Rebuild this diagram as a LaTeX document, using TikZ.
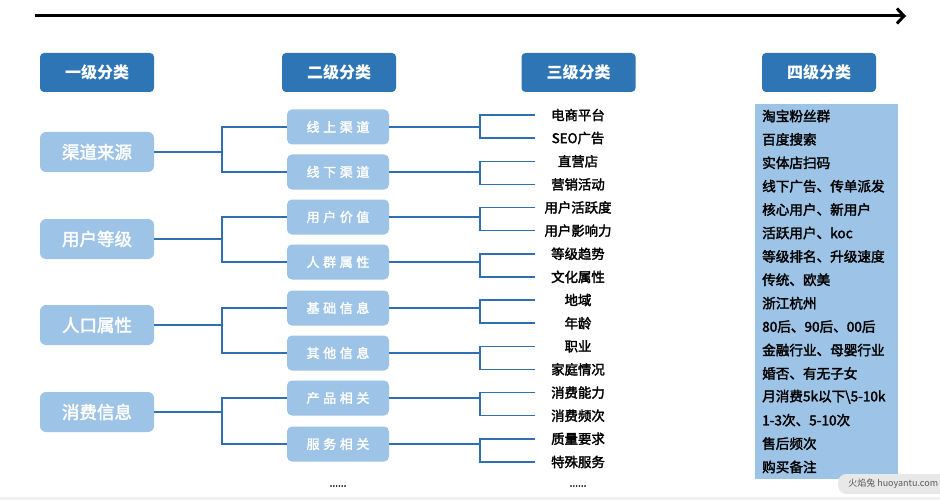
\documentclass[tikz,border=0pt]{standalone}
\usepackage{fontspec}
\setmainfont{Noto Sans CJK SC}
\newfontfamily\medfont{Noto Sans CJK SC}[RawFeature={embolden=2.2}]
\usetikzlibrary{arrows.meta}
\definecolor{dk}{HTML}{2E75B6}
\definecolor{lt}{HTML}{9DC3E6}
\definecolor{ln}{HTML}{2F6FB2}
\newcommand{\lsp}{\hspace{3.6pt}}
\tikzset{
  head/.style={fill=dk, rounded corners=4pt, text=white, minimum width=114pt, minimum height=39pt, inner sep=0pt, font=\fontsize{16}{16}\selectfont\bfseries},
  lvone/.style={fill=lt, rounded corners=6pt, text=white, minimum width=114pt, minimum height=40pt, inner sep=0pt, font=\medfont\fontsize{17.5}{17.5}\selectfont},
  lvtwo/.style={fill=lt, rounded corners=5pt, text=white, minimum width=102pt, minimum height=35pt, inner sep=0pt, font=\medfont\fontsize{13}{13}\selectfont},
  lvthree/.style={text=black, inner sep=0pt, font=\medfont\fontsize{13.4}{13.4}\selectfont},
  lvfour/.style={text=black, inner sep=0pt, anchor=west, font=\medfont\fontsize{13.6}{13.6}\selectfont},
  conn/.style={draw=ln, line width=1.5pt},
  dots/.style={text=black, inner sep=0pt, font=\medfont\fontsize{10}{10}\selectfont}
}
\begin{document}
\begin{tikzpicture}[x=1pt,y=-1pt]
\useasboundingbox (0,0) rectangle (940,500);
\fill[white] (0,0) rectangle (940,500);
\fill[gray!12] (0,497) rectangle (940,500);
% top arrow
\coordinate (aS) at (35,16);
\coordinate (aE) at (906,16);
\draw[line width=3pt, -{Straight Barb[length=7pt,width=15pt,line width=3pt]}] (aS) -- (aE);
% headers
\node[head] (h1) at (97,72.5) {一级分类};
\node[head] (h2) at (339,72.5) {二级分类};
\node[head] (h3) at (578.5,72.5) {三级分类};
\node[head] (h4) at (819,72.5) {四级分类};
% level one
\node[lvone] (A) at (97,152) {渠道来源};
\node[lvone] (B) at (97,239) {用户等级};
\node[lvone] (C) at (97,325) {人口属性};
\node[lvone] (D) at (97,412) {消费信息};
% level two
\node[lvtwo] (A1) at (338,127) {线\lsp 上\lsp 渠\lsp 道};
\node[lvtwo] (A2) at (338,172) {线\lsp 下\lsp 渠\lsp 道};
\node[lvtwo] (B1) at (338,217) {用\lsp 户\lsp 价\lsp 值};
\node[lvtwo] (B2) at (338,262) {人\lsp 群\lsp 属\lsp 性};
\node[lvtwo] (C1) at (338,308) {基\lsp 础\lsp 信\lsp 息};
\node[lvtwo] (C2) at (338,353) {其\lsp 他\lsp 信\lsp 息};
\node[lvtwo] (D1) at (338,398) {产\lsp 品\lsp 相\lsp 关};
\node[lvtwo] (D2) at (338,444) {服\lsp 务\lsp 相\lsp 关};
% level three
\node[lvthree] (t1) at (578,115.0) {电商平台};
\node[lvthree] (t2) at (578,138.1) {SEO广告};
\node[lvthree] (t3) at (578,161.3) {直营店};
\node[lvthree] (t4) at (578,184.4) {营销活动};
\node[lvthree] (t5) at (578,207.5) {用户活跃度};
\node[lvthree] (t6) at (578,230.7) {用户影响力};
\node[lvthree] (t7) at (578,253.8) {等级趋势};
\node[lvthree] (t8) at (578,276.9) {文化属性};
\node[lvthree] (t9) at (578,300.0) {地域};
\node[lvthree] (t10) at (578,323.2) {年龄};
\node[lvthree] (t11) at (578,346.3) {职业};
\node[lvthree] (t12) at (578,369.4) {家庭情况};
\node[lvthree] (t13) at (578,392.6) {消费能力};
\node[lvthree] (t14) at (578,415.7) {消费频次};
\node[lvthree] (t15) at (578,438.8) {质量要求};
\node[lvthree] (t16) at (578,462.0) {特殊服务};
\node[dots] (d2) at (338,486) {......};
\node[dots] (d3) at (578,486) {......};
% junction columns
\coordinate (j1) at (222,0);
\coordinate (j2) at (480,0);
\coordinate (e3) at (535,0);
% level one -> level two
\foreach \p/\a/\b in {A/A1/A2, B/B1/B2, C/C1/C2, D/D1/D2}{
  \draw[conn] (\p.east) -- (j1 |- \p.east);
  \draw[conn] (\a.west) -| (j1 |- \p.east) |- (\b.west);
}
% level two -> level three
\foreach \p/\a/\b in {A1/t1/t2, A2/t3/t4, B1/t5/t6, B2/t7/t8, C1/t9/t10, C2/t11/t12, D1/t13/t14, D2/t15/t16}{
  \draw[conn] (\p.east) -- (j2 |- \p.east);
  \draw[conn] (e3 |- \a) -| (j2 |- \p.east) |- (e3 |- \b);
}
% level four
\node[fill=lt, minimum width=143pt, minimum height=375pt, anchor=north west, inner sep=0pt] (col4) at (755,104) {};
\node[lvfour] (f1) at (762,116.0) {淘宝粉丝群};
\node[lvfour] (f2) at (762,139.4) {百度搜索};
\node[lvfour] (f3) at (762,162.8) {实体店扫码};
\node[lvfour] (f4) at (762,186.2) {线下广告、传单派发};
\node[lvfour] (f5) at (762,209.6) {核心用户、新用户};
\node[lvfour] (f6) at (762,233.0) {活跃用户、koc};
\node[lvfour] (f7) at (762,256.4) {等级排名、升级速度};
\node[lvfour] (f8) at (762,279.8) {传统、欧美};
\node[lvfour] (f9) at (762,303.2) {浙江杭州};
\node[lvfour] (f10) at (762,326.6) {80后、90后、00后};
\node[lvfour] (f11) at (762,350.0) {金融行业、母婴行业};
\node[lvfour] (f12) at (762,373.4) {婚否、有无子女};
\node[lvfour] (f13) at (762,396.8) {月消费5k以下\textbackslash5-10k};
\node[lvfour] (f14) at (762,420.2) {1-3次、5-10次};
\node[lvfour] (f15) at (762,443.6) {售后频次};
\node[lvfour] (f16) at (762,467.0) {购买备注};
% watermark
\node[fill=gray!18, rounded corners=8pt, minimum height=20pt, minimum width=110pt, text=gray!70!black, font=\fontsize{9}{9}\selectfont, anchor=west] (wm) at (838,484) {火焰兔 huoyantu.com};
\end{tikzpicture}
\end{document}
